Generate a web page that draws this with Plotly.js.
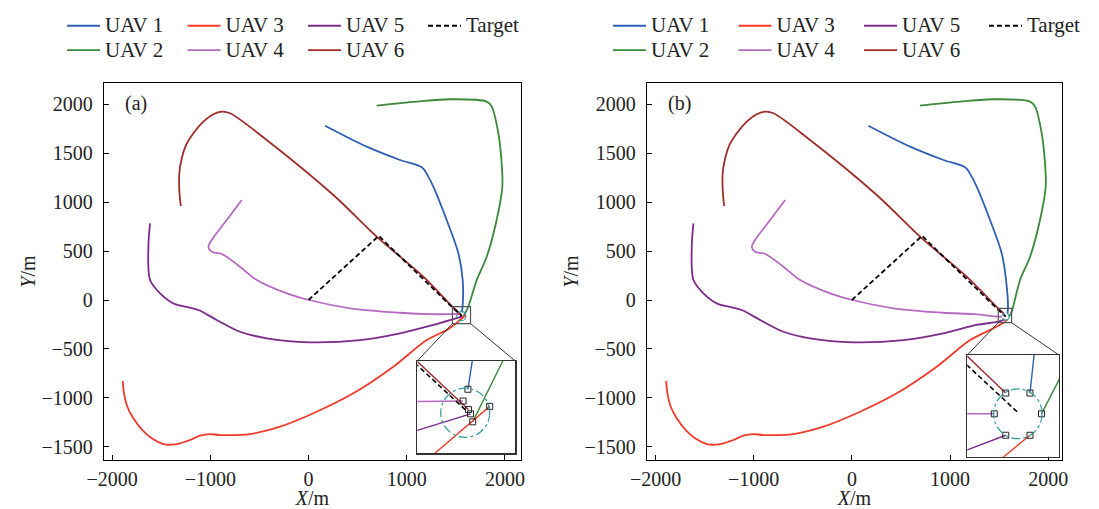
<!DOCTYPE html>
<html><head><meta charset="utf-8">
<script src="https://cdn.plot.ly/plotly-3.0.1.min.js"></script>
<style>html,body{margin:0;padding:0;background:#fff}</style>
</head><body>
<div id="chart" style="width:1099px;height:509px"></div>
<script>
// ---------------- data ----------------
const uavNames = ['UAV 1', 'UAV 2', 'UAV 3', 'UAV 4', 'UAV 5', 'UAV 6'];
const targetName = 'Target';

const uav1X = [168, 593, 932, 1153, 1220, 1271, 1407, 1526, 1570];
const uav1Y = [1780, 1566, 1430, 1355, 1260, 1157, 817, 477, 204];

const uav2X = [694, 1102, 1441, 1815, 1866, 1933, 1967, 1974, 1916, 1815, 1713];
const uav2Y = [1985, 2026, 2050, 2026, 1975, 1703, 1396, 1157, 817, 442, 204];

const uav3X = [-1892, -1879, -1845, -1784, -1699, -1597, -1479, -1393, -1309, -1207, -1105, -1003, -901, -596, -290, 49, 456, 864, 1204, 1420];
const uav3Y = [-827, -953, -1090, -1208, -1321, -1413, -1471, -1478, -1464, -1430, -1386, -1369, -1379, -1369, -1294, -1157, -953, -681, -409, -300];

const uav4X = [-680, -833, -986, -1020, -986, -884, -698, -527, -222, 8, 423, 932, 1250];
const uav4Y = [1021, 817, 613, 544, 493, 470, 340, 204, 68, 0, -85, -130, -145];

const uav5X = [-1614, -1631, -1614, -1512, -1377, -1224, -1122, -935, -698, -426, 15, 524, 932, 1271];
const uav5Y = [783, 544, 204, 68, -34, -75, -102, -204, -324, -391, -432, -409, -340, -255];

const uav6X = [-1301, -1316, -1316, -1291, -1247, -1173, -1071, -969, -884, -799, -426, 253, 694, 1169];
const uav6Y = [960, 1124, 1294, 1447, 1583, 1703, 1821, 1897, 1923, 1907, 1634, 1072, 647, 238];

const targetX = [0, 715];
const targetY = [0, 655];

// final approach (UAV1..UAV6, Target): point where the path enters the zoom box, and final position
const entryAX = [1569, 1626, 1499, 1466, 1466, 1466, 1466];
const entryAY = [-69, -69, -241, -144, -198, -69, -76];
const endAX = [1561, 1570, 1602, 1552, 1566, 1562, 1560];
const endAY = [-121, -182, -153, -143, -167, -159, -163];

const entryBX = [1590, 1627, 1545, 1491, 1491, 1491, 1491];
const entryBY = [-85, -121, -232, -170, -222, -87, -100];
const endBX = [1584, 1601, 1584, 1531, 1548, 1548, 1567];
const endBY = [-140, -170, -201, -170, -201, -140, -169];

// formation circle: centre x, centre y, radius
const circleA = [1556, -165, 46];
const circleB = [1566, -170, 36];

// zoomed region: x0, x1, y0, y1
const zoomA = [1466, 1650, -241, -68];
const zoomB = [1491, 1627, -232, -85];

// ---------------- styles / layout ----------------
const colors = ['#2e5fb5', '#3b8a3b', '#f03b2a', '#b569c2', '#7b2a8b', '#a02c2c'];
const W = 1099, H = 509;
const FONT = 'Liberation Serif, Times New Roman, serif';

function px2fx(p) { return p / W; }
function py2fy(p) { return (H - p) / H; }
function legendText(s) { return '<span style="font-size:21px">' + s + '</span>'; }

const panels = [
  { xa: 'x', ya: 'y', ixa: 'x3', iya: 'y3', legend: 'legend', tlegend: 'legend3', label: '(a)',
    dom: [104, 521], xr: [-2083, 2164], yr: [-1634, 2216], inset: [417.3, 515.3, 361, 453.3],
    legX: 62, legTX: 423, entryW: 72.5,
    entryX: entryAX, entryY: entryAY, endX: endAX, endY: endAY, circle: circleA, zoom: zoomA },
  { xa: 'x2', ya: 'y2', ixa: 'x4', iya: 'y4', legend: 'legend2', tlegend: 'legend4', label: '(b)',
    dom: [647, 1062], xr: [-2087, 2140], yr: [-1634, 2216], inset: [967.3, 1059, 355, 456.7],
    legX: 608, legTX: 984, entryW: 77.5,
    entryX: entryBX, entryY: entryBY, endX: endBX, endY: endBY, circle: circleB, zoom: zoomB }
];
const yDom = [py2fy(460), py2fy(83)];

const pathsX = [uav1X, uav2X, uav3X, uav4X, uav5X, uav6X, targetX];
const pathsY = [uav1Y, uav2Y, uav3Y, uav4Y, uav5Y, uav6Y, targetY];
const names = uavNames.concat([targetName]);

const data = [];
const shapes = [];
const annotations = [];
const layout = {
  width: W, height: H,
  margin: { l: 0, r: 0, t: 0, b: 0 },
  paper_bgcolor: '#fff', plot_bgcolor: '#fff',
  font: { family: FONT, size: 20, color: '#222' },
  showlegend: true,
  shapes: shapes, annotations: annotations
};

panels.forEach((p, k) => {
  // main traces
  for (let i = 0; i < 7; i++) {
    const isT = i === 6;
    data.push({
      type: 'scatter', mode: 'lines',
      x: pathsX[i].concat([p.entryX[i], p.endX[i]]),
      y: pathsY[i].concat([p.entryY[i], p.endY[i]]),
      xaxis: p.xa, yaxis: p.ya, name: legendText(names[i]), legend: isT ? p.tlegend : p.legend,
      legendgroup: p.legend + 'g' + Math.floor(i / 2),
      line: isT ? { color: '#000', width: 1.8, dash: '5px,3px' }
                : { color: colors[i], width: 1.8, shape: 'spline', smoothing: 0.9 },
      hoverinfo: 'skip'
    });
  }
  // inset traces
  for (let i = 0; i < 7; i++) {
    const isT = i === 6;
    data.push({
      type: 'scatter', mode: 'lines',
      x: pathsX[i].concat([p.entryX[i], p.endX[i]]),
      y: pathsY[i].concat([p.entryY[i], p.endY[i]]),
      xaxis: p.ixa, yaxis: p.iya, showlegend: false, legend: isT ? p.tlegend : p.legend,
      legendgroup: p.legend + 'g' + Math.floor(i / 2),
      line: isT ? { color: '#000', width: 1.6, dash: '5px,3px' } : { color: colors[i], width: 1.4 },
      hoverinfo: 'skip'
    });
  }
  // end markers (inset)
  data.push({
    type: 'scatter', mode: 'markers',
    x: p.endX.slice(0, 6), y: p.endY.slice(0, 6),
    xaxis: p.ixa, yaxis: p.iya, showlegend: false, legend: p.legend,
    marker: { symbol: 'square-open', size: 6, color: '#222', line: { width: 1 } },
    hoverinfo: 'skip'
  });

  const axNum = k === 0 ? '' : '2';
  const inNum = k === 0 ? '3' : '4';
  const xDom = [px2fx(p.dom[0]), px2fx(p.dom[1])];
  layout['xaxis' + axNum] = {
    domain: xDom, range: p.xr, anchor: 'y' + axNum, dtick: 1000, tick0: 0,
    showline: true, mirror: true, linecolor: '#000', linewidth: 1.2,
    ticks: 'inside', ticklen: 5, tickcolor: '#000', showgrid: false, zeroline: false,
    tickfont: { size: 20, color: '#222' }, ticklabelstandoff: 1,
    title: { text: '<i>X</i>/m', font: { size: 20, color: '#222' }, standoff: 8 }
  };
  layout['yaxis' + axNum] = {
    domain: yDom, range: p.yr, anchor: 'x' + axNum, dtick: 500, tick0: 0,
    showline: true, mirror: true, linecolor: '#000', linewidth: 1.2,
    ticks: 'inside', ticklen: 5, tickcolor: '#000', showgrid: false, zeroline: false,
    tickfont: { size: 20, color: '#222' }, ticklabelstandoff: 6,
    title: { text: '<i>Y</i>/m', font: { size: 20, color: '#222' }, standoff: 0 }
  };
  layout['xaxis' + inNum] = {
    domain: [px2fx(p.inset[0]), px2fx(p.inset[1])], range: [p.zoom[0], p.zoom[1]], anchor: 'y' + inNum,
    showline: true, mirror: true, linecolor: '#333', linewidth: 1.2,
    showticklabels: false, ticks: '', showgrid: false, zeroline: false
  };
  layout['yaxis' + inNum] = {
    domain: [py2fy(p.inset[3]), py2fy(p.inset[2])], range: [p.zoom[2], p.zoom[3]], anchor: 'x' + inNum,
    showline: true, mirror: true, linecolor: '#333', linewidth: 1.2,
    showticklabels: false, ticks: '', showgrid: false, zeroline: false
  };

  // formation circle in main and inset
  [[p.xa, p.ya], [p.ixa, p.iya]].forEach(([xr, yr]) => {
    shapes.push({
      type: 'circle', xref: xr, yref: yr,
      x0: p.circle[0] - p.circle[2], x1: p.circle[0] + p.circle[2],
      y0: p.circle[1] - p.circle[2], y1: p.circle[1] + p.circle[2],
      line: { color: '#2f9a9a', width: 1.2, dash: 'dashdot' }, layer: 'above'
    });
  });
  // zoom rectangle on main axes
  shapes.push({
    type: 'rect', xref: p.xa, yref: p.ya,
    x0: p.zoom[0], x1: p.zoom[1], y0: p.zoom[2], y1: p.zoom[3],
    line: { color: '#555', width: 1.2 }, layer: 'above'
  });
  // connectors: rect bottom corners -> inset top corners (paper coords through the axis mapping)
  const fx = v => xDom[0] + (v - p.xr[0]) / (p.xr[1] - p.xr[0]) * (xDom[1] - xDom[0]);
  const fy = v => yDom[0] + (v - p.yr[0]) / (p.yr[1] - p.yr[0]) * (yDom[1] - yDom[0]);
  shapes.push({ type: 'line', xref: 'paper', yref: 'paper',
    x0: fx(p.zoom[0]), y0: fy(p.zoom[2]), x1: px2fx(p.inset[0]), y1: py2fy(p.inset[2]),
    line: { color: '#333', width: 1 } });
  shapes.push({ type: 'line', xref: 'paper', yref: 'paper',
    x0: fx(p.zoom[1]), y0: fy(p.zoom[2]), x1: px2fx(p.inset[1]), y1: py2fy(p.inset[2]),
    line: { color: '#333', width: 1 } });

  annotations.push({
    text: p.label, xref: p.xa + ' domain', yref: p.ya + ' domain', x: 0.045, y: 0.945,
    xanchor: 'left', yanchor: 'middle', showarrow: false, font: { size: 20, color: '#222' }
  });

  const legBase = {
    orientation: 'h', traceorder: 'grouped', tracegroupgap: 0,
    entrywidth: p.entryW, entrywidthmode: 'pixels',
    xanchor: 'left', y: py2fy(8.5), yanchor: 'top',
    font: { size: 16.5, color: '#222', family: FONT },
    bgcolor: 'rgba(0,0,0,0)', itemwidth: 33
  };
  layout[p.legend] = Object.assign({}, legBase, { x: px2fx(p.legX) });
  layout[p.tlegend] = Object.assign({}, legBase, { x: px2fx(p.legTX), entrywidth: 50 });
});

Plotly.newPlot('chart', data, layout, { staticPlot: true });
</script>
</body></html>
